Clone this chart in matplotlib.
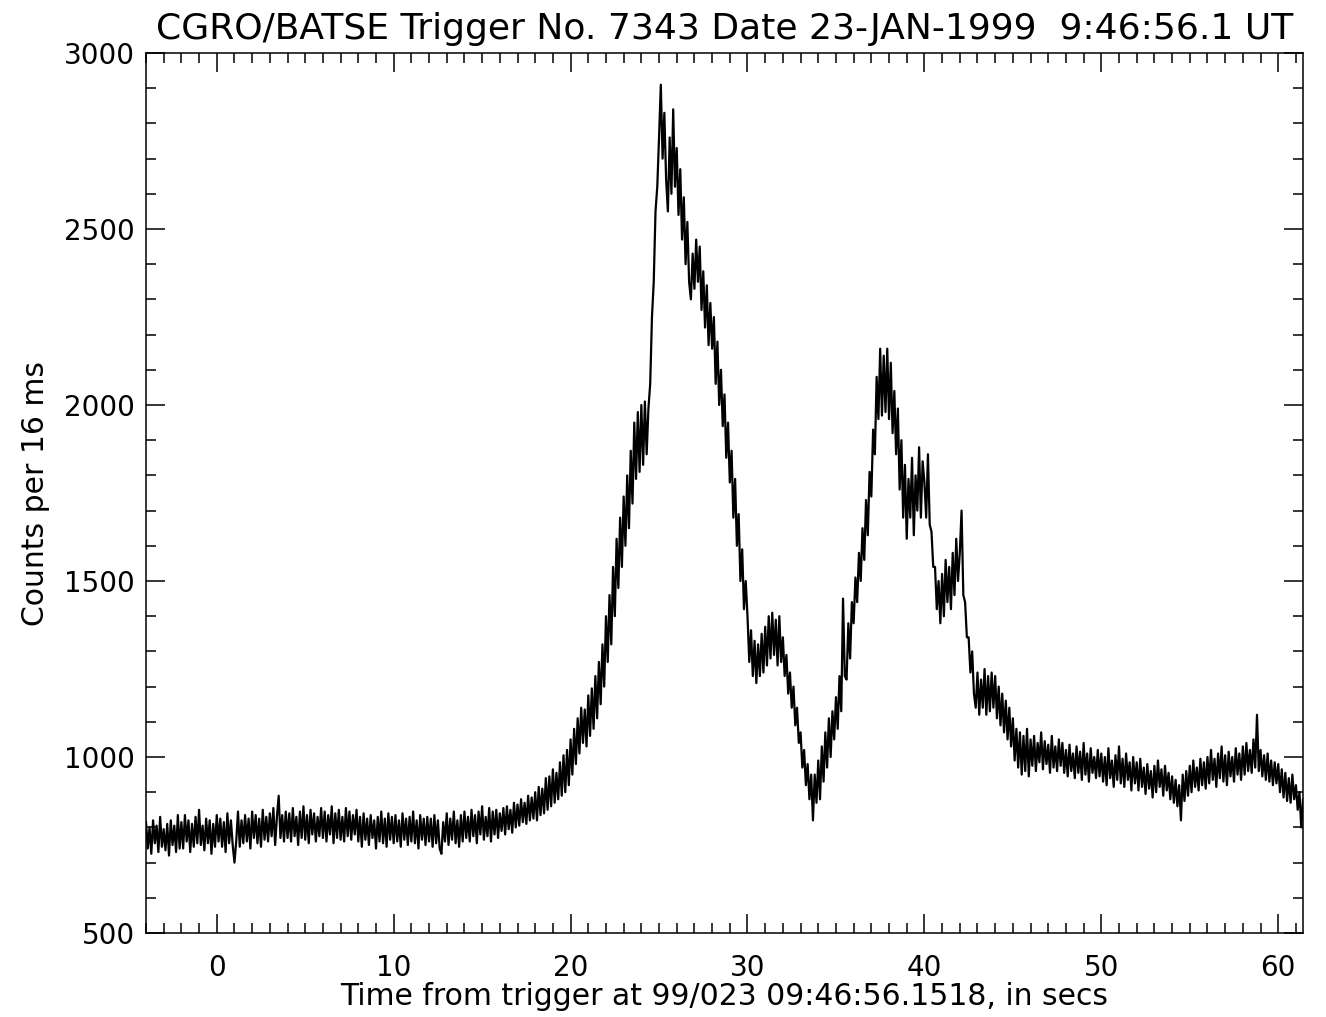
import numpy as np
import matplotlib
matplotlib.use("Agg")
import matplotlib.pyplot as plt
from matplotlib.ticker import MultipleLocator

TITLE = "CGRO/BATSE Trigger No. 7343 Date 23-JAN-1999  9:46:56.1 UT"
XLABEL = "Time from trigger at 99/023 09:46:56.1518, in secs"
YLABEL = "Counts per 16 ms"

# light curve, one value per 0.1 s starting at -4.0 s
T_START = -4.0
BIN = 0.1

pre_burst = [
    815, 740, 800, 725, 820, 755, 805, 730, 830, 745, 795, 735, 810, 720, 820, 750, 805, 730, 835, 740,    # -4
    815, 740, 835, 760, 820, 730, 810, 745, 830, 755, 850, 750, 805, 735, 825, 755, 820, 725, 810, 745,    # -2
    835, 760, 825, 745, 815, 730, 840, 755, 820, 750, 700, 760, 845, 745, 820, 755, 835, 760, 825, 740,    # 0
    845, 770, 835, 755, 825, 745, 850, 765, 830, 760, 840, 775, 855, 750, 830, 890, 770, 835, 760, 845,    # 2
    770, 840, 760, 855, 775, 830, 750, 845, 770, 860, 765, 835, 755, 850, 780, 840, 760, 830, 775, 855,    # 4
    770, 845, 760, 835, 780, 860, 755, 840, 770, 850, 765, 830, 760, 855, 775, 845, 765, 835, 780, 850,    # 6
    760, 830, 745, 840, 765, 825, 750, 835, 770, 820, 740, 830, 760, 845, 755, 825, 745, 840, 765, 830,    # 8
    755, 835, 760, 820, 745, 840, 765, 825, 750, 830, 760, 845, 755, 820, 740, 835, 765, 825, 750, 830,    # 10
    760, 825, 745, 835, 755, 820, 740, 725, 815, 760, 840, 750, 825, 765, 845, 755, 820, 745, 835, 760,    # 12
    845, 770, 830, 760, 850, 775, 835, 755, 845, 780, 860, 765, 830, 775, 855, 760, 845, 780, 850, 770,    # 14
    840, 790, 855, 780, 860, 795, 850, 785, 870, 800, 865, 805, 880, 815, 870, 810, 890, 820, 885, 825,    # 16
]

pulse_one = [
    900, 820, 915, 835, 910, 840, 940, 850, 945, 860,
    965, 870, 955, 880, 985, 890, 1005, 900, 1020, 920,                                                    # 18
    1050, 950, 1080, 980, 1110, 1010, 1140, 1040, 1135, 1030,
    1175, 1060, 1195, 1080, 1230, 1110, 1270, 1150, 1320, 1200,                                            # 20
    1400, 1270, 1460, 1320, 1540, 1400, 1620, 1480, 1680, 1540,
    1740, 1600, 1800, 1650, 1870, 1720, 1950, 1790, 1980, 1810,                                            # 22
    2000, 1830, 2010, 1860, 1990, 2060, 2250, 2350, 2550, 2620,
    2760, 2910, 2700, 2830, 2640, 2550, 2760, 2600, 2840, 2620,                                            # 24
    2730, 2540, 2670, 2470, 2590, 2400, 2520, 2350, 2300, 2430,
    2330, 2470, 2350, 2450, 2270, 2380, 2220, 2340, 2170, 2290,                                            # 26
    2160, 2250, 2060, 2180, 2000, 2100, 1940, 2030, 1850, 1950,
    1780, 1870, 1680, 1790, 1600, 1690, 1500, 1590, 1420, 1500,                                            # 28
    1400, 1270, 1360, 1230, 1330, 1210, 1320, 1230, 1350, 1240,
    1370, 1260, 1400, 1280, 1410, 1290, 1390, 1260, 1400, 1270,                                            # 30
    1340, 1230, 1290, 1180, 1240, 1140, 1200, 1090, 1140, 1040,
    1070, 970, 1020, 920, 980, 880, 950, 820, 950, 870,                                                    # 32
]

pulse_two = [
    990, 880, 1030, 930, 1070, 970, 1110, 1000, 1130, 1050,
    1170, 1080, 1230, 1130, 1450, 1230, 1220, 1380, 1280, 1440,                                            # 34
    1380, 1510, 1440, 1580, 1500, 1650, 1560, 1730, 1630, 1810,
    1740, 1930, 1860, 2080, 1960, 2160, 1970, 2140, 1980, 2160,                                            # 36
    1960, 2120, 1920, 2040, 1860, 1990, 1760, 1900, 1680, 1830,
    1620, 1790, 1680, 1850, 1630, 1800, 1700, 1880, 1680, 1840,                                            # 38
    1780, 1680, 1860, 1660, 1640, 1540, 1540, 1420, 1500, 1380,
    1520, 1400, 1560, 1440, 1540, 1420, 1580, 1460, 1620, 1500,                                            # 40
    1580, 1700, 1460, 1440, 1340, 1340, 1240, 1300, 1180, 1140,
    1240, 1120, 1220, 1140, 1250, 1120, 1230, 1130, 1240, 1140,                                            # 42
    1230, 1110, 1200, 1090, 1180, 1070, 1160, 1050, 1140, 1030,
    1110, 990, 1080, 970, 1070, 950, 1060, 960, 1080, 945,                                                 # 44
]

tail = [
    1050, 975, 1060, 960, 1040, 985, 1070, 965, 1045, 980,
    1035, 955, 1060, 970, 1030, 960, 1050, 975, 1040, 955,                                                 # 46
    1020, 945, 1035, 960, 1010, 940, 1030, 955, 1015, 935,
    1040, 950, 1010, 930, 1025, 955, 1000, 940, 1020, 945,                                                 # 48
    1010, 930, 1000, 920, 1025, 940, 990, 915, 1005, 935,
    1030, 925, 995, 915, 1010, 935, 985, 905, 1000, 925,                                                   # 50
    985, 905, 995, 915, 970, 895, 980, 910, 960, 885,
    975, 900, 990, 915, 965, 890, 975, 905, 955, 880,                                                      # 52
    945, 870, 935, 860, 920, 820, 950, 875, 960, 890,
    975, 900, 990, 915, 970, 905, 995, 920, 985, 910,                                                      # 54
    1000, 925, 1020, 935, 995, 915, 1010, 940, 1030, 930,
    1005, 920, 1015, 945, 1000, 930, 1025, 950, 1010, 935,                                                 # 56
    1030, 950, 1040, 960, 1020, 955, 1050, 970, 1120, 960,
    1020, 945, 1005, 935, 1010, 930, 990, 920, 985, 925,                                                   # 58
    980, 900, 965, 885, 955, 875, 940, 870, 950, 880,
    920, 850, 900, 800, 880,                                                                               # 60
]

counts = np.array(pre_burst + pulse_one + pulse_two + tail, dtype=float)
t = T_START + BIN * np.arange(len(counts))

fig = plt.figure(figsize=(13.26, 10.17), dpi=100)
ax = fig.add_axes([146 / 1326, 84 / 1017, 1157 / 1326, 880 / 1017])

ax.plot(t, counts, color="black", lw=1.6)

ax.set_xlim(-4.0, 61.4)
ax.set_ylim(500, 3000)
ax.xaxis.set_major_locator(MultipleLocator(10))
ax.xaxis.set_minor_locator(MultipleLocator(1))
ax.yaxis.set_major_locator(MultipleLocator(500))
ax.yaxis.set_minor_locator(MultipleLocator(100))
ax.tick_params(which="both", direction="in", top=True, right=True, width=1.1,
               labelsize=20, color="black")
ax.tick_params(which="major", length=14)
ax.tick_params(which="minor", length=7.5)
ax.tick_params(axis="x", which="major", pad=15)
ax.tick_params(axis="y", which="major", pad=8)
for s in ax.spines.values():
    s.set_linewidth(1.1)

ax.set_title(TITLE, fontsize=26, pad=10)
ax.set_xlabel(XLABEL, fontsize=21.5, labelpad=0)
ax.set_ylabel(YLABEL, fontsize=21.5, labelpad=10)

plt.savefig("out.png", dpi=100)
